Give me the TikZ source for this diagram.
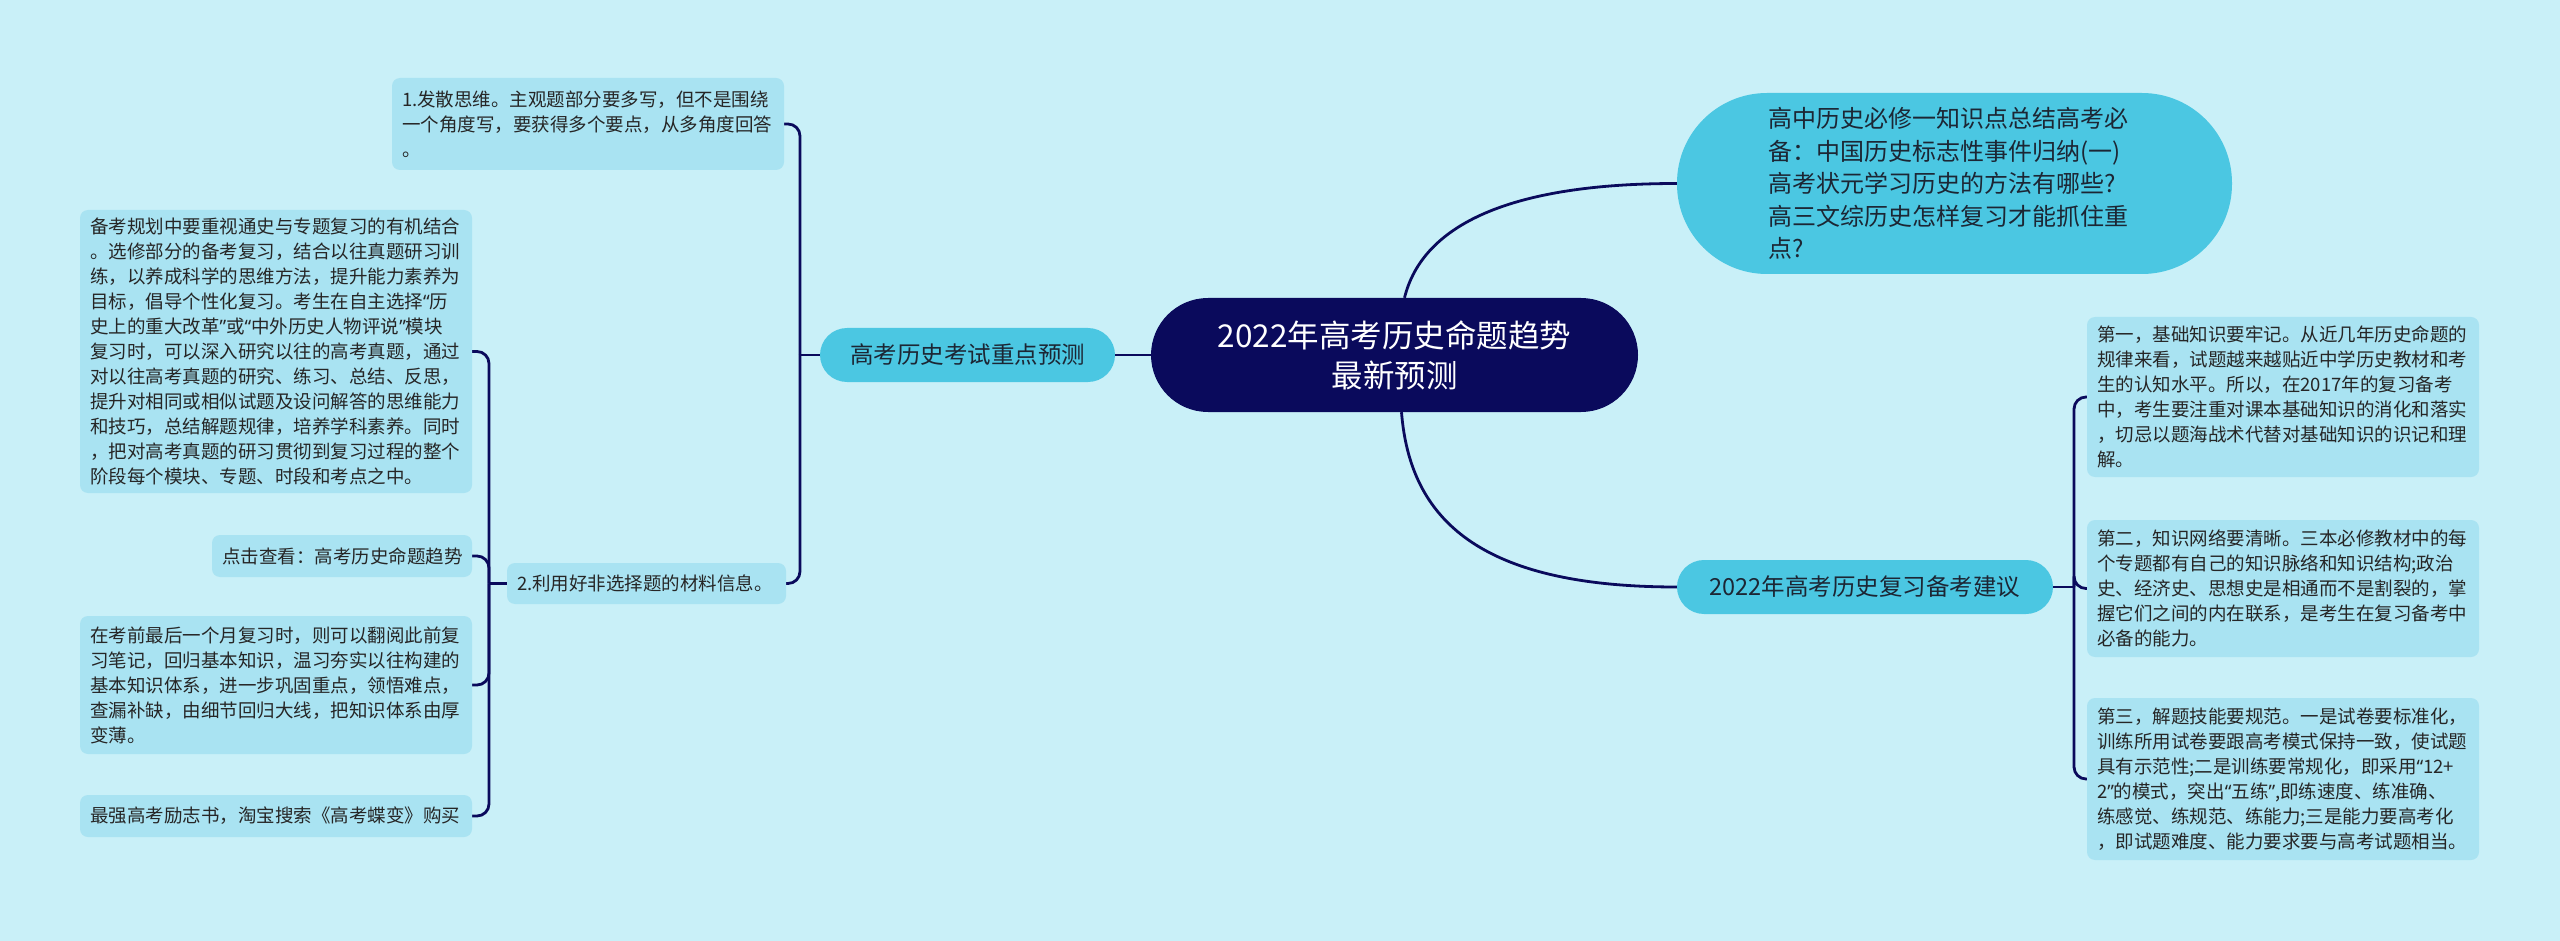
\documentclass[tikz,border=0pt]{standalone}
\usepackage{fontspec}
\setmainfont{Noto Sans CJK SC}
\newfontfamily\qfont{Noto Sans}
\newcommand{\myoq}{{\qfont “}}
\newcommand{\mycq}{{\qfont ”}}
\definecolor{bg}{HTML}{C9F0F8}
\definecolor{leaffill}{HTML}{A9E3F2}
\definecolor{branchfill}{HTML}{4BC7E2}
\definecolor{navy}{HTML}{0A0A5C}
\definecolor{txt}{HTML}{262626}
\definecolor{btxt}{HTML}{1C2634}
\pgfdeclarelayer{back}
\pgfdeclarelayer{links}
\pgfsetlayers{back,links,main}
\tikzset{
  leaf/.style={fill=leaffill, rounded corners=8pt, inner sep=0pt, text=txt, align=left,
    font=\fontsize{18.5}{25}\selectfont},
  branch/.style={fill=branchfill, rounded corners=27pt, inner sep=0pt, text=btxt, align=center,
    minimum height=54pt, font=\fontsize{23.5}{30}\selectfont},
  rootbox/.style={fill=navy, rounded corners=57pt, inner sep=0pt, text=white, align=center,
    minimum width=487pt, minimum height=114pt, font=\fontsize{31.5}{40}\selectfont},
  ovalbox/.style={fill=branchfill, rounded corners=90pt, inner sep=0pt, text=btxt, align=left,
    font=\fontsize{24}{32.5}\selectfont},
  conn/.style={draw=navy, line width=2.8pt},
  elbow/.style={conn, rounded corners=12pt},
}
\begin{document}
\begin{tikzpicture}[x=1pt,y=-1pt]
\begin{pgfonlayer}{back}
\fill[bg] (0,0) rectangle (2560,941);
\end{pgfonlayer}
\useasboundingbox (0,0) rectangle (2560,941);

% root
\node[rootbox] (cn) at (1394.5,355) {2022年高考历史命题趋势\\最新预测};

% left branch
\node[branch, minimum width=295pt] (lb) at (967.5,355) {高考历史考试重点预测};
\node[leaf, minimum width=392pt, text width=372pt, minimum height=92pt] (c1) at (588,124)
 {1.发散思维。主观题部分要多写，但不是围绕\\一个角度写，要获得多个要点，从多角度回答\\。};
\node[leaf, minimum width=279pt, text width=259pt, minimum height=41pt] (c2) at (646.5,583.5)
 {2.利用好非选择题的材料信息。};
\node[leaf, minimum width=392pt, text width=372pt, minimum height=283pt] (d1) at (276,351.5)
 {备考规划中要重视通史与专题复习的有机结合\\
 。选修部分的备考复习，结合以往真题研习训\\
 练，以养成科学的思维方法，提升能力素养为\\
 目标，倡导个性化复习。考生在自主选择\myoq 历\\
 史上的重大改革\mycq 或\myoq 中外历史人物评说\mycq 模块\\
 复习时，可以深入研究以往的高考真题，通过\\
 对以往高考真题的研究、练习、总结、反思，\\
 提升对相同或相似试题及设问解答的思维能力\\
 和技巧，总结解题规律，培养学科素养。同时\\
 ，把对高考真题的研习贯彻到复习过程的整个\\
 阶段每个模块、专题、时段和考点之中。};
\node[leaf, minimum width=260pt, text width=240pt, minimum height=42pt] (d2) at (342,556)
 {点击查看：高考历史命题趋势};
\node[leaf, minimum width=392pt, text width=372pt, minimum height=138pt] (d3) at (276,685)
 {在考前最后一个月复习时，则可以翻阅此前复\\
 习笔记，回归基本知识，温习夯实以往构建的\\
 基本知识体系，进一步巩固重点，领悟难点，\\
 查漏补缺，由细节回归大线，把知识体系由厚\\
 变薄。};
\node[leaf, minimum width=392pt, text width=372pt, minimum height=42pt] (d4) at (276,816)
 {最强高考励志书，淘宝搜索《高考蝶变》购买};

% right top oval
\node[ovalbox, minimum width=555pt, minimum height=181pt, text width=372pt] (ro) at (1954.5,183.5)
 {高中历史必修一知识点总结高考必\\
 备：中国历史标志性事件归纳(一)\\
 高考状元学习历史的方法有哪些?\\
 高三文综历史怎样复习才能抓住重\\
 点?};

% right bottom branch
\node[branch, minimum width=376pt] (rb) at (1865,587) {2022年高考历史复习备考建议};
\node[leaf, minimum width=392pt, text width=372pt, minimum height=160pt] (r1) at (2283,397)
 {第一，基础知识要牢记。从近几年历史命题的\\
 规律来看，试题越来越贴近中学历史教材和考\\
 生的认知水平。所以，在2017年的复习备考\\
 中，考生要注重对课本基础知识的消化和落实\\
 ，切忌以题海战术代替对基础知识的识记和理\\
 解。};
\node[leaf, minimum width=392pt, text width=372pt, minimum height=137pt] (r2) at (2283,588.5)
 {第二，知识网络要清晰。三本必修教材中的每\\
 个专题都有自己的知识脉络和知识结构;政治\\
 史、经济史、思想史是相通而不是割裂的，掌\\
 握它们之间的内在联系，是考生在复习备考中\\
 必备的能力。};
\node[leaf, minimum width=392pt, text width=372pt, minimum height=162pt] (r3) at (2283,779)
 {第三，解题技能要规范。一是试卷要标准化，\\
 训练所用试卷要跟高考模式保持一致，使试题\\
 具有示范性;二是训练要常规化，即采用\myoq 12+\\
 2\mycq 的模式，突出\myoq 五练\mycq ,即练速度、练准确、\\
 练感觉、练规范、练能力;三是能力要高考化\\
 ，即试题难度、能力要求要与高考试题相当。};

\coordinate (jl) at (800,355);
\coordinate (jc) at (489,583.5);
\coordinate (jr) at (2074,587);

\begin{pgfonlayer}{links}
\draw[conn] (cn.west) -- (lb.east);
\draw[conn] (lb.west) -- (jl);
\draw[elbow] (jl) |- (c1.east);
\draw[elbow] (jl) |- (c2.east);
\draw[conn] (c2.west) -- (jc);
\draw[elbow] (jc) |- (d1.east);
\draw[elbow] (jc) |- (d2.east);
\draw[elbow] (jc) |- (d3.east);
\draw[elbow] (jc) |- (d4.east);
\draw[conn] ([xshift=10pt]cn.north) .. controls (1420,235) and (1490,183.5) .. (ro.west);
\draw[conn] ([xshift=7pt]cn.south) .. controls (1410,520) and (1480,587) .. (rb.west);
\draw[conn] (rb.east) -- (jr);
\draw[elbow] (jr) |- (r1.west);
\draw[elbow] (jr) |- (r2.west);
\draw[elbow] (jr) |- (r3.west);
\end{pgfonlayer}
\end{tikzpicture}
\end{document}
